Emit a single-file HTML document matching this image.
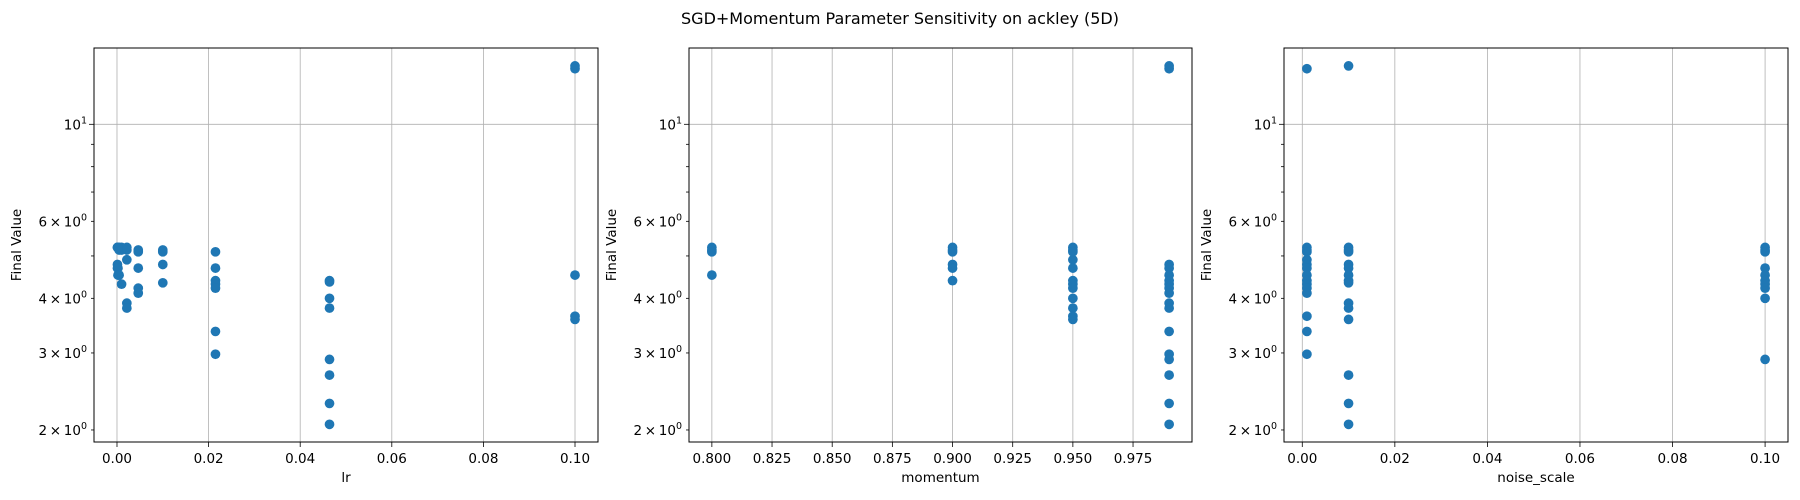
<!DOCTYPE html>
<html><head><meta charset="utf-8"><style>
html,body{margin:0;padding:0;background:#fff;}
svg{display:block;font-family:"DejaVu Sans","Liberation Sans",sans-serif;}
</style></head><body>
<svg id="fig" width="1800" height="500" viewBox="0 0 1800 500">
<text x="900" y="24" text-anchor="middle" font-size="16" fill="#000">SGD+Momentum Parameter Sensitivity on ackley (5D)</text>
</svg>
<script>
// Panel 1: lr
const lrX = [0.0001,0.0001,0.0001,0.0001, 0.000215,0.000215,0.000215, 0.000464,0.000464,0.000464, 0.001,0.001,0.001, 0.00215,0.00215,0.00215,0.00215,0.00215, 0.00464,0.00464,0.00464,0.00464,0.00464, 0.01,0.01,0.01,0.01, 0.0215,0.0215,0.0215,0.0215,0.0215,0.0215,0.0215, 0.0464,0.0464,0.0464,0.0464,0.0464,0.0464,0.0464,0.0464, 0.1,0.1,0.1,0.1,0.1];
const lrY = [5.23,5.23,4.78,4.69, 5.23,4.69,4.52, 5.23,5.16,4.52, 5.23,5.16,4.31, 5.23,5.16,4.90,3.90,3.80, 5.16,5.11,4.69,4.22,4.11, 5.16,5.11,4.78,4.34, 5.11,4.69,4.39,4.31,4.22,3.36,2.98, 4.39,4.36,4.00,3.80,2.90,2.67,2.30,2.06, 13.4,13.6,4.52,3.64,3.58];
// Panel 2: momentum
const momX = [0.8,0.8,0.8,0.8, 0.9,0.9,0.9,0.9,0.9,0.9, 0.95,0.95,0.95,0.95,0.95,0.95,0.95,0.95,0.95,0.95,0.95,0.95, 0.99,0.99,0.99,0.99,0.99,0.99,0.99,0.99,0.99,0.99,0.99,0.99,0.99,0.99,0.99,0.99,0.99];
const momY = [5.23,5.16,5.11,4.52, 5.23,5.16,5.11,4.78,4.69,4.39, 5.23,5.16,5.11,4.90,4.69,4.39,4.31,4.22,4.00,3.80,3.64,3.58, 13.4,13.6,4.78,4.69,4.52,4.39,4.31,4.22,4.11,3.90,3.80,3.36,2.98,2.90,2.67,2.30,2.06];
// Panel 3: noise_scale
const nsX = [0.001,0.001,0.001,0.001,0.001,0.001,0.001,0.001,0.001,0.001,0.001,0.001,0.001,0.001,0.001, 0.01,0.01,0.01,0.01,0.01,0.01,0.01,0.01,0.01,0.01,0.01,0.01,0.01,0.01,0.01, 0.1,0.1,0.1,0.1,0.1,0.1,0.1,0.1,0.1,0.1];
const nsY = [13.4,5.23,5.16,5.11,4.90,4.78,4.69,4.52,4.39,4.31,4.22,4.11,3.64,3.36,2.98, 13.6,5.23,5.16,5.11,4.78,4.69,4.52,4.39,4.34,3.90,3.80,3.58,2.67,2.30,2.06, 5.23,5.16,5.11,4.69,4.52,4.39,4.31,4.22,4.00,2.90];
const lrTicks = ["0.00","0.02","0.04","0.06","0.08","0.10"];
const momTicks = ["0.800","0.825","0.850","0.875","0.900","0.925","0.950","0.975"];
const nsTicks = ["0.00","0.02","0.04","0.06","0.08","0.10"];

const NS = "http://www.w3.org/2000/svg";
const svg = document.getElementById('fig');
const TOP = 48, BOT = 442, LMIN = 0.2735, LMAX = 1.1745;
function yScale(v){ return BOT - (Math.log10(v) - LMIN) / (LMAX - LMIN) * (BOT - TOP); }
function mk(tag, attrs, parent){ const e = document.createElementNS(NS, tag); for (const k in attrs) e.setAttribute(k, attrs[k]); (parent||svg).appendChild(e); return e; }

function panel(id, left, right, xmin, xmax, ticks, xs, ys, xlabel){
  const g = mk('g', {});
  
  
  const xS = v => left + (v - xmin) / (xmax - xmin) * (right - left);
  ticks.forEach(t => {
    const x = xS(parseFloat(t));
    const gl = mk('line', {x1:x, x2:x, y1:TOP, y2:BOT, stroke:'#b0b0b0', 'stroke-width':0.8}, g);
    
    
    mk('line', {x1:x, x2:x, y1:BOT, y2:BOT+5, stroke:'#000', 'stroke-width':0.8}, g);
    const tx = mk('text', {x:x, y:BOT+21, 'text-anchor':'middle', 'font-size':13.5}, g);
    tx.textContent = t;
    
    
  });
  const y10 = yScale(10);
  mk('line', {x1:left, x2:right, y1:y10, y2:y10, stroke:'#b0b0b0', 'stroke-width':0.8}, g);
  const majors = [[2,'2'],[3,'3'],[4,'4'],[6,'6']];
  [2,3,4,5,6,7,8,9,10].forEach(v => {
    const y = yScale(v);
    const len = v === 10 ? 5 : 3;
    mk('line', {x1:left-len, x2:left, y1:y, y2:y, stroke:'#000', 'stroke-width':0.8}, g);
  });
  majors.forEach(m => {
    const y = yScale(m[0]);
    const t = mk('text', {x:left-7, y:y+5, 'text-anchor':'end', 'font-size':13.5}, g);
    t.innerHTML = m[1] + '\u2009\u00d7\u200910<tspan dy="-6" font-size="9.5">0</tspan>';
    
    
  });
  const t10 = mk('text', {x:left-7, y:y10+5, 'text-anchor':'end', 'font-size':13.5}, g);
  t10.innerHTML = '10<tspan dy="-6" font-size="9.5">1</tspan>';
  
  
  xs.forEach((xv, i) => {
    const c = mk('circle', {cx:xS(xv), cy:yScale(ys[i]), r:4.85, fill:'#1f77b4'}, g);
    
    
  });
  const fr = mk('rect', {x:left, y:TOP, width:right-left, height:BOT-TOP, fill:'none', stroke:'#000', 'stroke-width':1}, g);
  
  
  const xl = mk('text', {x:(left+right)/2, y:482, 'text-anchor':'middle', 'font-size':13.5}, g);
  xl.textContent = xlabel;
  
  
  const yx = left - 73;
  const yl = mk('text', {x:yx, y:(TOP+BOT)/2, 'text-anchor':'middle', 'font-size':13.5, transform:`rotate(-90 ${yx} ${(TOP+BOT)/2})`}, g);
  yl.textContent = 'Final Value';
  
  
}
panel('lr', 94, 598, -0.00502, 0.10502, lrTicks, lrX, lrY, 'lr');
panel('momentum', 689, 1192, 0.7905, 0.9995, momTicks, momX, momY, 'momentum');
panel('noise-scale', 1284, 1788, -0.00395, 0.10495, nsTicks, nsX, nsY, 'noise_scale');
</script>
</body></html>
